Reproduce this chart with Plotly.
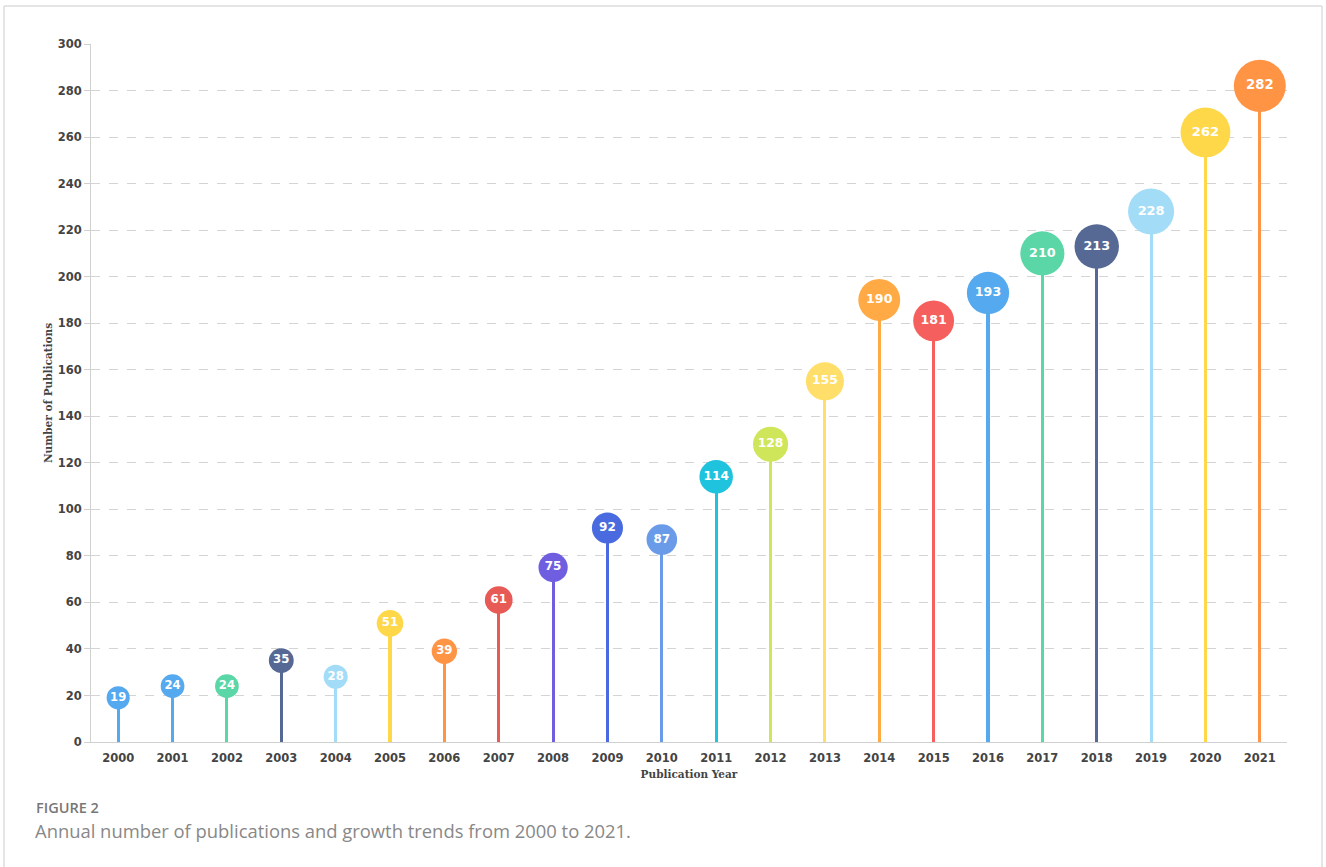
import plotly.graph_objects as go

years = [str(y) for y in range(2000, 2022)]
counts = [19, 24, 24, 35, 28, 51, 39, 61, 75, 92, 87, 114, 128, 155, 190, 181, 193, 210, 213, 228, 262, 282]
colors = ["#55A9EE", "#55A9EE", "#5AD6A7", "#566994", "#A3DCF7", "#FFD84A", "#FF9445",
          "#E85A55", "#6F5FE0", "#4A6BE0", "#6A9BE8", "#1FC3DD", "#CFE65A", "#FFDF6A",
          "#FFAA45", "#F5605F", "#55A9EE", "#5AD6A7", "#566994", "#A3DCF7", "#FFD84A", "#FF9445"]
y_ticks = list(range(0, 301, 20))

sizes = [21 + c * 0.11 for c in counts]
text_sizes = [11.5 + c * 0.006 for c in counts]

W, H = 1326, 867
L, R, T, B = 91, 39, 44, 125
pw, ph = W - L - R, H - T - B

def px(x):
    return (x - L) / pw

def py(y):
    return (H - B - y) / ph

fig = go.Figure()
fig.add_trace(go.Bar(x=years, y=counts, width=0.058, marker=dict(color=colors, line_width=0),
                     hoverinfo="skip", showlegend=False))
fig.add_trace(go.Scatter(x=years, y=counts, mode="markers+text", text=[str(c) for c in counts],
                         textposition="middle center",
                         textfont=dict(color="white", size=text_sizes, family="DejaVu Sans", weight="bold"),
                         marker=dict(color=colors, size=sizes, line_width=0, opacity=1),
                         showlegend=False, cliponaxis=False))

fig.update_layout(
    width=W, height=H,
    margin=dict(l=L, r=R, t=T, b=B),
    paper_bgcolor="white", plot_bgcolor="white",
    xaxis=dict(type="category", range=[-0.5, 21.5], showgrid=False, showline=True,
               linecolor="#d0d0d0", linewidth=1, ticks="", ticklabelstandoff=5,
               tickfont=dict(family="DejaVu Sans", size=11.5, color="#444", weight="bold"),
               title=dict(text="Publication Year", standoff=6,
                          font=dict(family="DejaVu Serif", size=10.5, color="#444", weight="bold"))),
    yaxis=dict(range=[0, 300], tickvals=y_ticks, showgrid=True, gridcolor="#d4d4d4", griddash="dash",
               gridwidth=1, showline=True, linecolor="#d0d0d0", linewidth=1, zeroline=False,
               ticks="outside", ticklen=6, tickcolor="#d0d0d0",
               tickfont=dict(family="DejaVu Sans", size=11.5, color="#444", weight="bold"),
               title=dict(text="Number of Publications", standoff=3,
                          font=dict(family="DejaVu Serif", size=10.5, color="#444", weight="bold"))),
    bargap=0,
)

fig.add_shape(type="rect", xref="paper", yref="paper",
              x0=px(4), x1=px(1322), y0=py(1000), y1=py(6),
              line=dict(color="#cccccc", width=1), fillcolor="rgba(0,0,0,0)", layer="below")

fig.add_annotation(xref="paper", yref="paper", x=px(34), y=py(807), xanchor="left", yanchor="middle",
                   text="FIGURE 2", showarrow=False,
                   font=dict(family="Open Sans", size=14.5, color="#777", weight=600))
fig.add_annotation(xref="paper", yref="paper", x=px(33), y=py(830), xanchor="left", yanchor="middle",
                   text="Annual number of publications and growth trends from 2000 to 2021.", showarrow=False,
                   font=dict(family="Open Sans", size=18.4, color="#888"))

fig.write_html("out.html")
